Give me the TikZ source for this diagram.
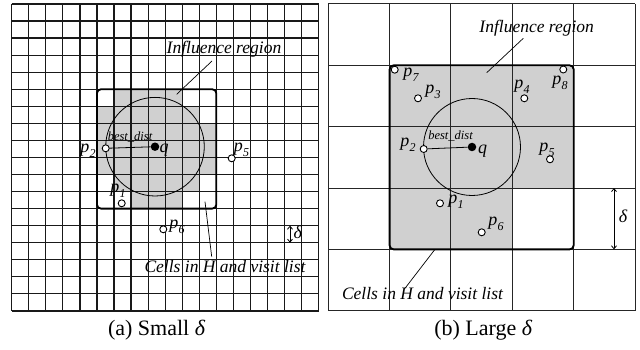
\documentclass[tikz,border=0pt]{standalone}
\usepackage{fontspec}
\setmainfont{Liberation Serif}
\usetikzlibrary{arrows.meta}
\definecolor{shadegray}{RGB}{208,208,208}
\newcommand\pl[1]{{\itshape p\kern0.3pt\raisebox{-0.28em}{\fontsize{12}{12}\selectfont #1}}}
\newcommand\lcell[2]{\fill[shadegray] ({11.7+#1*17.05},{4+#2*17.05}) rectangle ++(17.05,17.05);}
\begin{document}
\begin{tikzpicture}[x=1pt,y=-1pt,
  gridA/.style={line width=1.2pt, black!90},
  gridB/.style={line width=1pt, black!85},
  region/.style={line width=1.8pt, rounded corners=4pt},
  ring/.style={line width=0.8pt},
  leader/.style={line width=0.7pt},
  pt/.style={circle, draw, fill=white, line width=0.9pt, inner sep=0pt, minimum size=7pt},
  qpt/.style={circle, fill=black, inner sep=0pt, minimum size=8.5pt},
  lbl/.style={inner sep=0pt, font=\fontsize{17.5}{20}\selectfont\itshape},
  plbl/.style={inner sep=0pt, font=\fontsize{18}{20}\selectfont},
  sml/.style={inner sep=0pt, font=\fontsize{12.5}{14}\selectfont\itshape},
  captext/.style={inner sep=0pt, font=\fontsize{22}{26}\selectfont},
  darrow/.style={line width=0.8pt, {Straight Barb[length=3pt,width=5pt]}-{Straight Barb[length=3pt,width=5pt]}}
]
\useasboundingbox (0,0) rectangle (640,350);

% ---------- (a) small delta ----------
\foreach \i in {6,...,9} {\lcell{\i}{5}}
\foreach \i in {5,...,10} {\lcell{\i}{6}}
\foreach \j in {7,8,9} {\foreach \i in {5,...,11} {\lcell{\i}{\j}}}
\foreach \i in {6,...,10} {\lcell{\i}{10}}
\foreach \i in {7,...,9} {\lcell{\i}{11}}
\foreach \k in {0,...,18} {
  \draw[gridA] ({11.7+\k*17.05},4) -- ({11.7+\k*17.05},310.9);
  \draw[gridA] (11.7,{4+\k*17.05}) -- (318.6,{4+\k*17.05});
}
\draw[region] (96.95,89.25) rectangle (216.3,208.6);

\node[qpt] (qa) at (155,146.7) {};
\draw[ring] (qa.center) circle (49.3);
\node[pt] (p2a) at (105.7,148.3) {};
\draw[ring] (p2a) -- (qa);
\node[pt] (p5a) at (231.7,158.3) {};
\node[pt] (p1a) at (121.7,203.3) {};
\node[pt] (p6a) at (163.3,229.3) {};

\node[plbl] (lp2a) at (88,150.5) {\pl{2}};
\node[plbl] (lqa) at (164,150) {\itshape q};
\node[plbl] (lp5a) at (241.5,150) {\pl{5}};
\node[plbl] (lp1a) at (118,190.5) {\pl{1}};
\node[plbl] (lp6a) at (177,227) {\pl{6}};
\node[sml] (bda) at (130,137.3) {best\_dist};

\node[lbl] (infa) at (224,49) {Influence region};
\coordinate (infa1) at (212,61);
\coordinate (infa2) at (176.7,94.3);
\draw[leader] (infa1) -- (infa2);
\node[lbl] (cella) at (225,266.5) {Cells in H and visit list};
\coordinate (cella1) at (205,201.7);
\coordinate (cella2) at (211.7,256.7);
\draw[leader] (cella1) -- (cella2);

\coordinate (da1) at (290,225.65);
\coordinate (da2) at (290,242.7);
\draw[darrow] (da1) -- (da2);
\node[plbl] (dla) at (297.7,232.7) {\itshape δ};

\node[captext] (capa) at (156.7,330) {(a) Small \textit{δ}};

% ---------- (b) large delta ----------
\begin{scope}
\clip[rounded corners=4pt] (389.64,65.34) rectangle (573.66,249.36);
\fill[shadegray] (389.64,65.34) -- (573.66,65.34) -- (573.66,188.02) -- (512.32,188.02) -- (512.32,249.36) -- (389.64,249.36) -- cycle;
\end{scope}
\foreach \k in {0,...,5} {
  \draw[gridB] ({328.3+\k*61.34},4) -- ({328.3+\k*61.34},310.7);
  \draw[gridB] (328.3,{4+\k*61.34}) -- (635,{4+\k*61.34});
}
\draw[region] (389.64,65.34) rectangle (573.66,249.36);

\node[qpt] (qb) at (472,147) {};
\draw[ring] (qb.center) circle (48.5);
\node[pt] (p2b) at (423.7,149) {};
\draw[ring] (p2b) -- (qb);
\node[pt] (p7b) at (394.7,69.7) {};
\node[pt] (p3b) at (418,98.3) {};
\node[pt] (p4b) at (524.3,98.3) {};
\node[pt] (p8b) at (563.3,69.5) {};
\node[pt] (p5b) at (550,159.3) {};
\node[pt] (p1b) at (440,203.3) {};
\node[pt] (p6b) at (481.7,232.3) {};

\node[plbl] (lp7b) at (411,75) {\pl{7}};
\node[plbl] (lp3b) at (433,92) {\pl{3}};
\node[plbl] (lp4b) at (522,87) {\pl{4}};
\node[plbl] (lp8b) at (560,83) {\pl{8}};
\node[plbl] (lp2b) at (408,144.5) {\pl{2}};
\node[plbl] (lqb) at (482.5,151.5) {\itshape q};
\node[plbl] (lp5b) at (547,149.5) {\pl{5}};
\node[plbl] (lp1b) at (456,201.5) {\pl{1}};
\node[plbl] (lp6b) at (496,223.5) {\pl{6}};
\node[sml] (bdb) at (450.5,136) {best\_dist};

\node[lbl] (infb) at (536.7,28.5) {Influence region};
\coordinate (infb1) at (523.3,38.3);
\coordinate (infb2) at (486.7,72.7);
\draw[leader] (infb1) -- (infb2);
\node[lbl] (cellb) at (422.5,294) {Cells in H and visit list};
\coordinate (cellb1) at (435,249.3);
\coordinate (cellb2) at (405,288.3);
\draw[leader] (cellb1) -- (cellb2);

\coordinate (db1) at (614,188.02);
\coordinate (db2) at (614,249.36);
\draw[darrow] (db1) -- (db2);
\node[plbl] (dlb) at (623,216.7) {\itshape δ};

\node[captext] (capb) at (483.3,330) {(b) Large \textit{δ}};
\end{tikzpicture}
\end{document}
